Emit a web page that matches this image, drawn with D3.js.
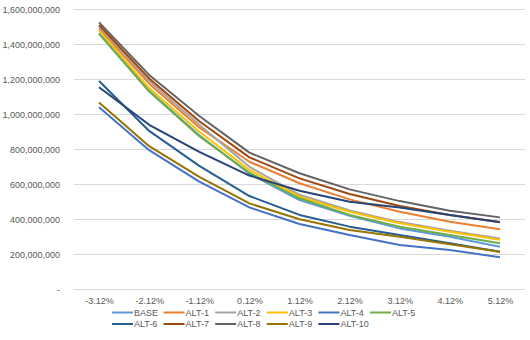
<!DOCTYPE html>
<meta charset="utf-8">
<html>
<head>
<style>
body {
  margin: 0;
  background: #fff;
  font-family: "Liberation Sans", Arial, sans-serif;
}
.grid line {
  stroke: #d9d9d9;
  shape-rendering: crispEdges;
}
.grid path { stroke-width: 0; }
.axis text { fill: #595959; font-size: 9px; }
.axis path, .axis line { stroke: none; }
</style>
</head>
<body>
<div id="chart"></div>
<script src="https://d3js.org/d3.v7.min.js"></script>
<script>

// categories and series
var categories = ["-3.12%", "-2.12%", "-1.12%", "0.12%", "1.12%", "2.12%", "3.12%", "4.12%", "5.12%"];
var seriesNames = ["BASE", "ALT-1", "ALT-2", "ALT-3", "ALT-4", "ALT-5", "ALT-6", "ALT-7", "ALT-8", "ALT-9", "ALT-10"];
var seriesColors = ["#5b9bd5", "#ed7d31", "#a5a5a5", "#ffc000", "#4472c4", "#70ad47", "#255e91", "#9e480e", "#636363", "#997300", "#264478"];

var base  = [1465, 1135, 880, 660, 510, 420, 348, 300, 243];
var alt1  = [1490, 1175, 925, 729, 606, 514, 443, 386, 343];
var alt2  = [1500, 1190, 940, 700, 540, 450, 384, 334, 290];
var alt3  = [1478, 1150, 900, 682, 529, 443, 377, 329, 283];
var alt4  = [1040, 795, 615, 468, 373, 310, 253, 225, 183];
var alt5  = [1460, 1130, 875, 666, 520, 425, 358, 310, 263];
var alt6  = [1190, 905, 705, 533, 425, 358, 310, 263, 215];
var alt7  = [1510, 1205, 960, 754, 634, 545, 476, 425, 385];
var alt8  = [1525, 1225, 990, 781, 663, 571, 504, 449, 411];
var alt9  = [1068, 818, 643, 491, 400, 339, 300, 258, 215];
var alt10 = [1155, 940, 785, 650, 563, 500, 468, 425, 383];

var yTicks = [0, 200, 400, 600, 800, 1000, 1200, 1400, 1600]; // millions

var allValues = [base, alt1, alt2, alt3, alt4, alt5, alt6, alt7, alt8, alt9, alt10];

var width = 530, height = 340;

var svg = d3.select("#chart")
  .append("svg")
    .attr("width", width)
    .attr("height", height);

var x = d3.scalePoint()
  .domain(categories)
  .range([74, 525])
  .padding(0.5);

var y = d3.scaleLinear()
  .domain([0, 1600e6])
  .range([289.3, 9.3]);

// gridlines
svg.append("g")
  .attr("class", "grid")
  .attr("transform", "translate(74,0)")
  .call(d3.axisLeft(y)
    .tickValues(yTicks.map(function(d) { return d * 1e6; }))
    .tickSize(-451)
    .tickFormat(""));

// y axis labels
svg.append("g")
  .attr("class", "axis")
  .attr("transform", "translate(67,0)")
  .call(d3.axisLeft(y)
    .tickValues(yTicks.map(function(d) { return d * 1e6; }))
    .tickSize(0)
    .tickPadding(7)
    .tickFormat(function(d) { return d === 0 ? "-" : d3.format(",")(d); }));

// x axis labels
svg.append("g")
  .attr("class", "axis")
  .attr("transform", "translate(0,289.3)")
  .call(d3.axisBottom(x).tickSize(0).tickPadding(8));

// lines
var line = d3.line()
  .x(function(d, i) { return x(categories[i]); })
  .y(function(d) { return y(d * 1e6); });

svg.append("g")
  .selectAll("path")
  .data(allValues)
  .enter()
  .append("path")
    .attr("d", line)
    .attr("fill", "none")
    .attr("stroke", function(d, i) { return seriesColors[i]; })
    .attr("stroke-width", 2)
    .attr("stroke-linejoin", "round");

// legend
var legend = svg.append("g")
  .selectAll("g")
  .data(seriesNames)
  .enter()
  .append("g")
    .attr("transform", function(d, i) {
      var col = i < 6 ? i : i - 6;
      var row = i < 6 ? 0 : 1;
      return "translate(" + (112 + col * 51.6) + "," + (312.5 + row * 11.5) + ")";
    });

legend.append("line")
  .attr("x1", 0)
  .attr("x2", 21)
  .attr("stroke", function(d, i) { return seriesColors[i]; })
  .attr("stroke-width", 2);

legend.append("text")
  .attr("x", 22)
  .attr("dy", "0.35em")
  .attr("fill", "#595959")
  .style("font-size", "9px")
  .text(function(d) { return d; });

</script>
</body>
</html>
